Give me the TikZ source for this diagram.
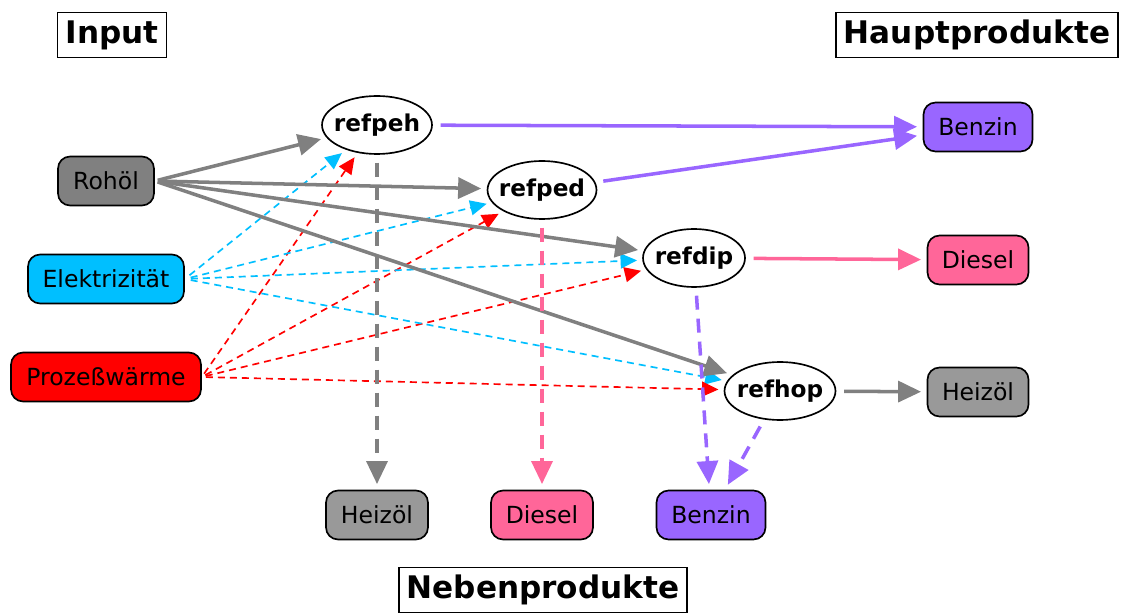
\documentclass[tikz,border=0pt]{standalone}
\usepackage{fontspec}
\setmainfont{DejaVu Sans}
\usetikzlibrary{arrows.meta,shapes.geometric}
\definecolor{rohgray}{RGB}{128,128,128}
\definecolor{heizgray}{RGB}{153,153,153}
\definecolor{elekblue}{RGB}{0,191,255}
\definecolor{benzpurple}{RGB}{153,102,255}
\definecolor{dieselpink}{RGB}{255,102,153}

\begin{document}
\begin{tikzpicture}[x=0.02cm,y=-0.02cm,
    every node/.style={font=\fontsize{13.4}{15}\selectfont},
    prod/.style={draw,line width=0.95pt,rounded corners=0.24cm,minimum height=0.98cm,inner sep=0pt},
    proc/.style={draw,ellipse,fill=white,line width=0.95pt,minimum height=1.16cm,inner sep=0pt,font=\fontsize{13.2}{15}\selectfont\bfseries},
    title/.style={draw,line width=0.95pt,minimum height=0.9cm,inner xsep=0.16cm,font=\fontsize{17.7}{20}\selectfont\bfseries},
    main/.style={line width=2pt,-{Triangle[length=0.46cm,width=0.42cm]},shorten <=4.5pt,shorten >=3.2pt},
    side/.style={main,dash pattern=on 0.28cm off 0.18cm},
    supply/.style={line width=0.95pt,dash pattern=on 0.14cm off 0.1cm,-{Triangle[length=0.33cm,width=0.3cm]},shorten >=3pt}
  ]
  \useasboundingbox (0,0) rectangle (1121,614);

  % headings
  \node[title] (inp) at (112,35) {Input};
  \node[title] (haupt) at (977,35) {Hauptprodukte};
  \node[title] (neben) at (543,590) {Nebenprodukte};

  % inputs
  \node[prod,fill=rohgray,minimum width=1.92cm] (roh) at (106,181) {Rohöl};
  \node[prod,fill=elekblue,minimum width=3.12cm] (elek) at (106,279) {Elektrizität};
  \node[prod,fill=red,minimum width=3.8cm] (proz) at (106,377) {Prozeßwärme};

  % refinery processes
  \node[proc,minimum width=2.2cm] (peh) at (377,125) {\makebox[1cm]{refpeh}};
  \node[proc,minimum width=2.18cm] (ped) at (542,190) {\makebox[1cm]{refped}};
  \node[proc,minimum width=2.04cm] (dip) at (694,258) {\makebox[1cm]{refdip}};
  \node[proc,minimum width=2.22cm] (hop) at (780,391) {\makebox[1cm]{refhop}};

  % main products
  \node[prod,fill=benzpurple,minimum width=2.18cm] (benzin) at (978,127) {Benzin};
  \node[prod,fill=dieselpink,minimum width=2.02cm] (diesel) at (978,260) {Diesel};
  \node[prod,fill=heizgray,minimum width=2.02cm] (heiz) at (978,392) {Heizöl};

  % by-products
  \node[prod,fill=heizgray,minimum width=2.04cm] (heizn) at (377,515) {Heizöl};
  \node[prod,fill=dieselpink,minimum width=2.04cm] (dieseln) at (542,515) {Diesel};
  \node[prod,fill=benzpurple,minimum width=2.18cm] (benzinn) at (711,515) {Benzin};

  % energy supply
  \foreach \t in {peh,ped,dip,hop} {
    \draw[supply,elekblue,shorten <=3.4pt] (elek.east) -- (\t);
    \draw[supply,red,shorten <=2.3pt] (proz.east) -- (\t);
  }

  % crude oil
  \foreach \t in {peh,ped,dip,hop}
    \draw[main,rohgray,shorten <=1.7pt] (roh.east) -- (\t);

  % outputs
  \draw[main,benzpurple] (peh) -- (benzin);
  \draw[main,benzpurple] (ped) -- (benzin);
  \draw[main,dieselpink] (dip) -- (diesel);
  \draw[main,rohgray] (hop) -- (heiz);

  \draw[side,rohgray] (peh) -- (heizn);
  \draw[side,dieselpink] (ped) -- (dieseln);
  \draw[side,benzpurple] (dip) -- (benzinn);
  \draw[side,benzpurple] (hop) -- (benzinn);
\end{tikzpicture}
\end{document}
